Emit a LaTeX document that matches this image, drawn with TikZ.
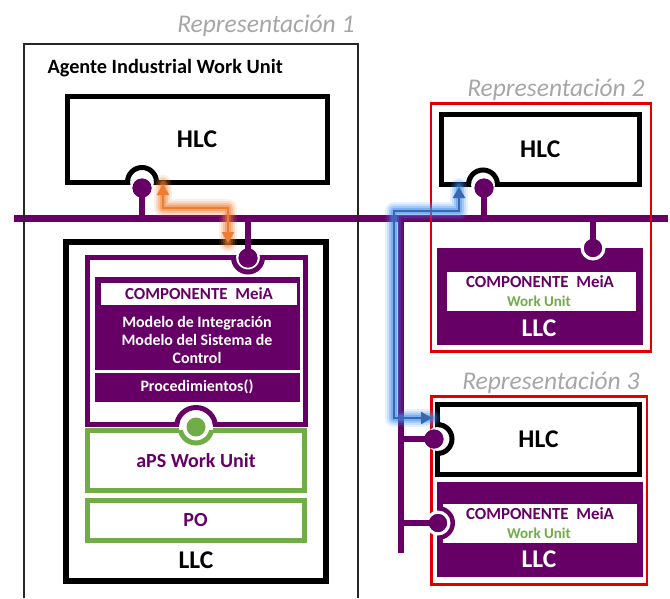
\documentclass[tikz,border=0pt]{standalone}
\usepackage{fontspec}
\setmainfont{Carlito}
\usetikzlibrary{arrows.meta}

\definecolor{meia}{HTML}{660066}
\definecolor{wugreen}{HTML}{70AD47}
\definecolor{repred}{HTML}{E00000}
\definecolor{captiongray}{HTML}{A6A6A6}
\definecolor{flowor}{HTML}{ED7D31}
\definecolor{flowblue}{HTML}{3A68AE}
\definecolor{glowblue}{HTML}{3C8CF0}

% rectangle node given by its corners: name, style, x1, y1, x2, y2, text
\newcommand\areanode[7]{%
  \node[#2, minimum width={(#5-#3)*1pt}, minimum height={(#6-#4)*1pt}]
    (#1) at ({(#3+#5)/2},{(#4+#6)/2}) {#7};}

\tikzset{
  busline/.style={draw=meia, line width=7pt},
  stemline/.style={draw=meia, line width=6pt},
  ball/.style={circle, fill=meia, inner sep=0pt, outer sep=0pt, minimum size=19pt},
  greenball/.style={ball, fill=wugreen},
  thinframe/.style={draw=black!85, line width=1.5pt},
  repframe/.style={draw=repred, line width=2.5pt},
  plainbox/.style={rectangle, inner sep=0pt, outer sep=0pt},
  ctrlbox/.style={plainbox, draw=black, line width=5pt, fill=white},
  meiaframe/.style={plainbox, draw=meia, line width=5pt, fill=white},
  meiafill/.style={plainbox, fill=meia},
  greenframe/.style={plainbox, draw=wugreen, line width=5pt, fill=white},
  whitebox/.style={plainbox, fill=white},
  bigtxt/.style={font=\bfseries\fontsize{25.5}{27}\selectfont},
  midtxt/.style={font=\bfseries\fontsize{20}{22}\selectfont, text=meia},
  comptxt/.style={font=\bfseries\fontsize{16.9}{18}\selectfont, text=meia},
  bodytxt/.style={font=\bfseries\fontsize{15.9}{19}\selectfont, text=white, align=center},
  wutxt/.style={font=\bfseries\fontsize{15}{16}\selectfont, text=wugreen},
  captiontxt/.style={font=\itshape\fontsize{25.5}{28}\selectfont, text=captiongray, anchor=base east},
  flowtip/.tip={Triangle[length=11pt, width=12pt]},
  glowline/.style={line join=round, line cap=round},
}

% socket drawn into the edge of a box: box name, centre, radius, colour
\newcommand\socket[4]{%
  \fill[white] #2 circle[radius=#3-2.5];
  \begin{scope}
    \clip (#1.south west) rectangle (#1.north east);
    \draw[#4, line width=5pt] #2 circle[radius=#3];
  \end{scope}}

\begin{document}
\begin{tikzpicture}[x=1pt, y=-1pt]
\useasboundingbox (0,0) rectangle (670,598);

% communication bus
\coordinate (busL) at (14,218);
\coordinate (busR) at (668,218);
\draw[busline] (busL) -- (busR);
\coordinate (busT3) at (401,218);
\coordinate (busB3) at (401,553);
\draw[busline, line width=6.5pt] (busT3) -- (busB3);

% ---------- Representación 1 ----------
\node[captiontxt] (cap1) at (358,32) {Representación 1};
\draw[thinframe] (24,598) -- (24,44) -- (358,44) -- (358,598);
\node[anchor=west, font=\bfseries\fontsize{20.3}{22}\selectfont] (agent) at (44,68) {Agente Industrial Work Unit};

\areanode{hlc1}{ctrlbox, bigtxt}{67}{96}{327}{182}{HLC}
\socket{hlc1}{(142,182)}{14.5}{black}
\node[ball] (d1) at (142,188) {};
\coordinate (s1) at (142,218);
\draw[stemline] (s1) -- (d1.center);
\node[ball] (d1) at (142,188) {};

\areanode{llc1}{ctrlbox, line width=6pt}{66}{242}{326}{581}{}
\node[bigtxt] (llc1t) at (196,560) {LLC};

\areanode{meia1}{meiaframe}{87.5}{257.5}{305}{424.5}{}
\areanode{meia1in}{meiafill}{95}{277}{300}{402}{}
\areanode{comp1}{whitebox, comptxt}{101}{283}{297}{305}{COMPONENTE\ \ MeiA}
\coordinate (sepL) at (95,371.5);
\coordinate (sepR) at (300,371.5);
\draw[white, line width=2.5pt] (sepL) -- (sepR);
\node[bodytxt] (model1) at (197,340) {Modelo de Integración\\[-1pt]Modelo del Sistema de\\[-1pt]Control};
\node[bodytxt] (proc1) at (197,387) {Procedimientos()};
\socket{meia1}{(248,257.5)}{14.5}{meia}
\coordinate (s2) at (248,218);
\node[ball] (d2) at (248,258) {};
\draw[stemline] (s2) -- (d2.center);
\node[ball] (d2) at (248,258) {};

\areanode{aps1}{greenframe, midtxt}{87.5}{430.5}{304.5}{490.5}{aPS Work Unit}
\areanode{po1}{greenframe, midtxt}{87}{500.5}{304}{540.5}{PO}
% ball-and-socket joint between the MeiA component and the aPS
\fill[white] (196,427) circle[radius=17];
\begin{scope}
  \clip (meia1.south west) rectangle (meia1.north east);
  \draw[meia, line width=5pt] (196,427) circle[radius=19.5];
\end{scope}
\begin{scope}
  \clip (aps1.south west) rectangle (aps1.north east);
  \draw[wugreen, line width=5pt] (196,427) circle[radius=16];
\end{scope}
\node[greenball] (g1) at (196,427) {};

% ---------- Representación 2 ----------
\node[captiontxt] (cap2) at (648,96) {Representación 2};
\coordinate (r2a) at (431,103.5);
\coordinate (r2b) at (651,351.5);
\draw[repframe] (r2a) rectangle (r2b);

\areanode{hlc2}{ctrlbox, bigtxt}{441}{114.5}{639.5}{184.5}{HLC}
\socket{hlc2}{(483,184.5)}{14.5}{black}
\coordinate (s3) at (484,218);
\node[ball] (d3) at (484,188) {};
\draw[stemline] (s3) -- (d3.center);
\node[ball] (d3) at (484,188) {};

\areanode{llc2}{meiafill}{437}{248}{643}{345}{}
\areanode{comp2}{whitebox}{447}{272}{636}{311}{}
\node[comptxt] (comp2t) at (540,282) {COMPONENTE\ \ MeiA};
\node[wutxt] (wu2) at (539,301) {Work Unit};
\node[bigtxt, text=white] (llc2t) at (539,328) {LLC};
\fill[white] (593,248) circle[radius=12.5];
\coordinate (s4) at (593,218);
\node[ball, minimum size=18pt] (d4) at (593,248) {};
\draw[stemline] (s4) -- (d4.center);
\node[ball, minimum size=18pt] (d4) at (593,248) {};

% ---------- Representación 3 ----------
\node[captiontxt] (cap3) at (643,389) {Representación 3};
\coordinate (r3a) at (431.5,396.5);
\coordinate (r3b) at (647,584.5);
\draw[repframe] (r3a) rectangle (r3b);

\areanode{hlc3}{ctrlbox, bigtxt}{437.5}{404.5}{639.5}{474.5}{HLC}
\socket{hlc3}{(437.5,439)}{14.5}{black}
\coordinate (s5) at (401,439);
\node[ball] (d5) at (434,439) {};
\draw[stemline] (s5) -- (d5.center);
\node[ball] (d5) at (434,439) {};

\areanode{llc3}{meiafill}{437}{482}{643}{577}{}
\areanode{comp3}{whitebox}{443}{504}{637}{543}{}
\begin{scope}
  \clip (llc3.south west) rectangle (llc3.north east);
  \fill[meia] (438,523) circle[radius=17];
\end{scope}
\fill[white] (438,523) circle[radius=12.5];
\node[comptxt] (comp3t) at (540,514) {COMPONENTE\ \ MeiA};
\node[wutxt] (wu3) at (539,533) {Work Unit};
\node[bigtxt, text=white] (llc3t) at (539,559) {LLC};
\coordinate (s6) at (401,523);
\node[ball, minimum size=18pt] (d6) at (438,523) {};
\draw[stemline] (s6) -- (d6.center);
\node[ball, minimum size=18pt] (d6) at (438,523) {};

% ---------- message flows ----------
\coordinate (o1) at (163,184);
\coordinate (o2) at (163,208);
\coordinate (o3) at (228,208);
\coordinate (o4) at (228,243);
\foreach \w/\op in {18/0.12, 14/0.18, 10/0.28, 6/0.4} {
  \draw[flowor, glowline, line width=\w pt, opacity=\op]
    (o1) -- (o2) -- (o3) -- (o4);
}
\draw[flowor, line width=2.5pt, flowtip-flowtip] (o1) -- (o2) -- (o3) -- (o4);

\coordinate (b1) at (459,187);
\coordinate (b2) at (459,211);
\coordinate (b3) at (394,211);
\coordinate (b4) at (394,418);
\coordinate (b5) at (432,418);
\foreach \w/\op in {18/0.12, 14/0.18, 10/0.28, 6/0.4} {
  \draw[glowblue, glowline, line width=\w pt, opacity=\op]
    (b1) -- (b2) -- (b3) -- (b4) -- (b5);
}
\draw[flowblue, line width=2.5pt, flowtip-flowtip] (b1) -- (b2) -- (b3) -- (b4) -- (b5);
\end{tikzpicture}
\end{document}
